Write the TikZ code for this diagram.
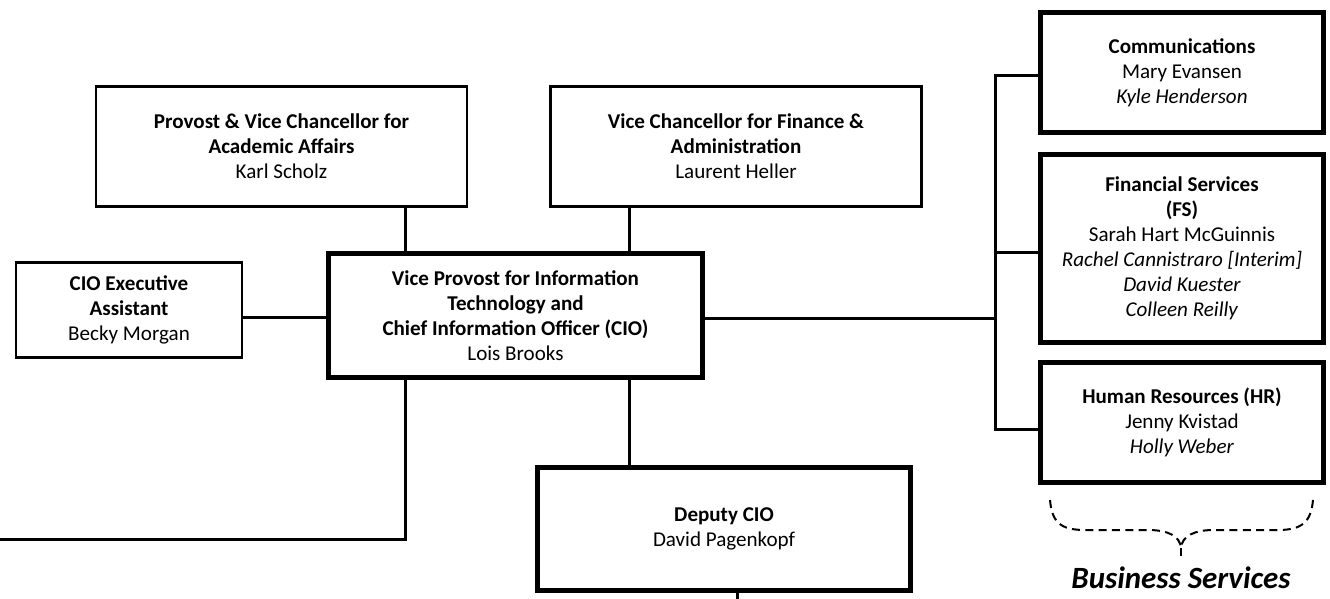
\documentclass[tikz,border=0pt]{standalone}
\usepackage{fontspec}
\setmainfont{Carlito}
\newdimen\upx \upx=0.75pt
\tikzset{
  thinbox/.style={draw=black, line width=2pt, fill=white, align=center, inner sep=0pt,
    font=\fontsize{15.8pt}{18.8pt}\selectfont},
  thickbox/.style={draw=black, line width=3.75pt, fill=white, align=center, inner sep=0pt,
    font=\fontsize{15.8pt}{18.8pt}\selectfont},
  conn/.style={draw=black, line width=2.25pt},
  bracedash/.style={draw=black, line width=1.5pt, dash pattern=on 6pt off 4pt},
  grouplabel/.style={font=\fontsize{23.2pt}{27pt}\selectfont\bfseries\itshape, inner sep=0pt}
}
\begin{document}
\begin{tikzpicture}[x=0.75pt, y=-0.75pt]
\useasboundingbox[fill=white] (0,0) rectangle (1330,599);

% boxes
\node[thinbox, minimum width=371\upx, minimum height=120\upx] (prov) at (281.5,146.5)
  {\textbf{Provost \& Vice Chancellor for}\\ \textbf{Academic Affairs}\\ Karl Scholz};
\node[thinbox, minimum width=371\upx, minimum height=120\upx] (vcf) at (736,146.5)
  {\textbf{Vice Chancellor for Finance \&}\\ \textbf{Administration}\\ Laurent Heller};
\node[thinbox, minimum width=226\upx, minimum height=95\upx] (cea) at (129,310)
  {\textbf{CIO Executive}\\ \textbf{Assistant}\\ Becky Morgan};
\node[thickbox, minimum width=374\upx, minimum height=124\upx] (cio) at (515.5,315.5)
  {\textbf{Vice Provost for Information}\\ \textbf{Technology and}\\ \textbf{Chief Information Officer (CIO)}\\ Lois Brooks};
\node[thickbox, minimum width=373\upx, minimum height=123\upx] (dep) at (724,529)
  {\textbf{Deputy CIO}\\ David Pagenkopf};
\node[thickbox, minimum width=283\upx, minimum height=120\upx] (com) at (1182,72.5)
  {\textbf{Communications}\\ Mary Evansen\\ \textit{Kyle Henderson}};
\node[thickbox, minimum width=283\upx, minimum height=188\upx] (fs) at (1182,248.5)
  {\textbf{Financial Services}\\ \textbf{(FS)}\\ Sarah Hart McGuinnis\\ \textit{Rachel Cannistraro [Interim]}\\ \textit{David Kuester}\\ \textit{Colleen Reilly}};
\node[thickbox, minimum width=283\upx, minimum height=120\upx] (hr) at (1182,422.5)
  {\textbf{Human Resources (HR)}\\ Jenny Kvistad\\ \textit{Holly Weber}};

% helper coordinates
\coordinate (xa) at (405,0);
\coordinate (xb) at (629,0);
\coordinate (xc) at (737,0);
\coordinate (ya) at (0,317);
\coordinate (lend) at (0,539);
\coordinate (dend) at (737,599);
\coordinate (bt) at (995,76);
\coordinate (bf) at (995,252);
\coordinate (bc) at (995,318);
\coordinate (bb) at (995,429);

% connectors
\draw[conn] (prov.south -| xa) -- (cio.north -| xa);
\draw[conn] (vcf.south -| xb) -- (cio.north -| xb);
\draw[conn] (cea.east |- ya) -- (cio.west |- ya);
\draw[conn] (cio.south -| xa) |- (lend);
\draw[conn] (cio.south -| xb) -- (dep.north -| xb);
\draw[conn] (dep.south -| xc) -- (dend);
\draw[conn] (cio.east |- bc) -- (bc);
\draw[conn] (com.west |- bt) -- (bt) -- (bb) -- (hr.west |- bb);
\draw[conn] (bf) -- (fs.west |- bf);

% brace
\draw[bracedash] (1050,500) .. controls (1052,522) and (1060,530) .. (1085,530)
  -- (1148,530) .. controls (1168,530) and (1180,536) .. (1181,548);
\draw[bracedash] (1313,500) .. controls (1311,522) and (1302,530) .. (1278,530)
  -- (1214,530) .. controls (1194,530) and (1182,536) .. (1181,548);
\draw[bracedash] (1181,548) -- (1181,558);

\node[grouplabel] (bs) at (1181,578) {Business Services};
\end{tikzpicture}
\end{document}
